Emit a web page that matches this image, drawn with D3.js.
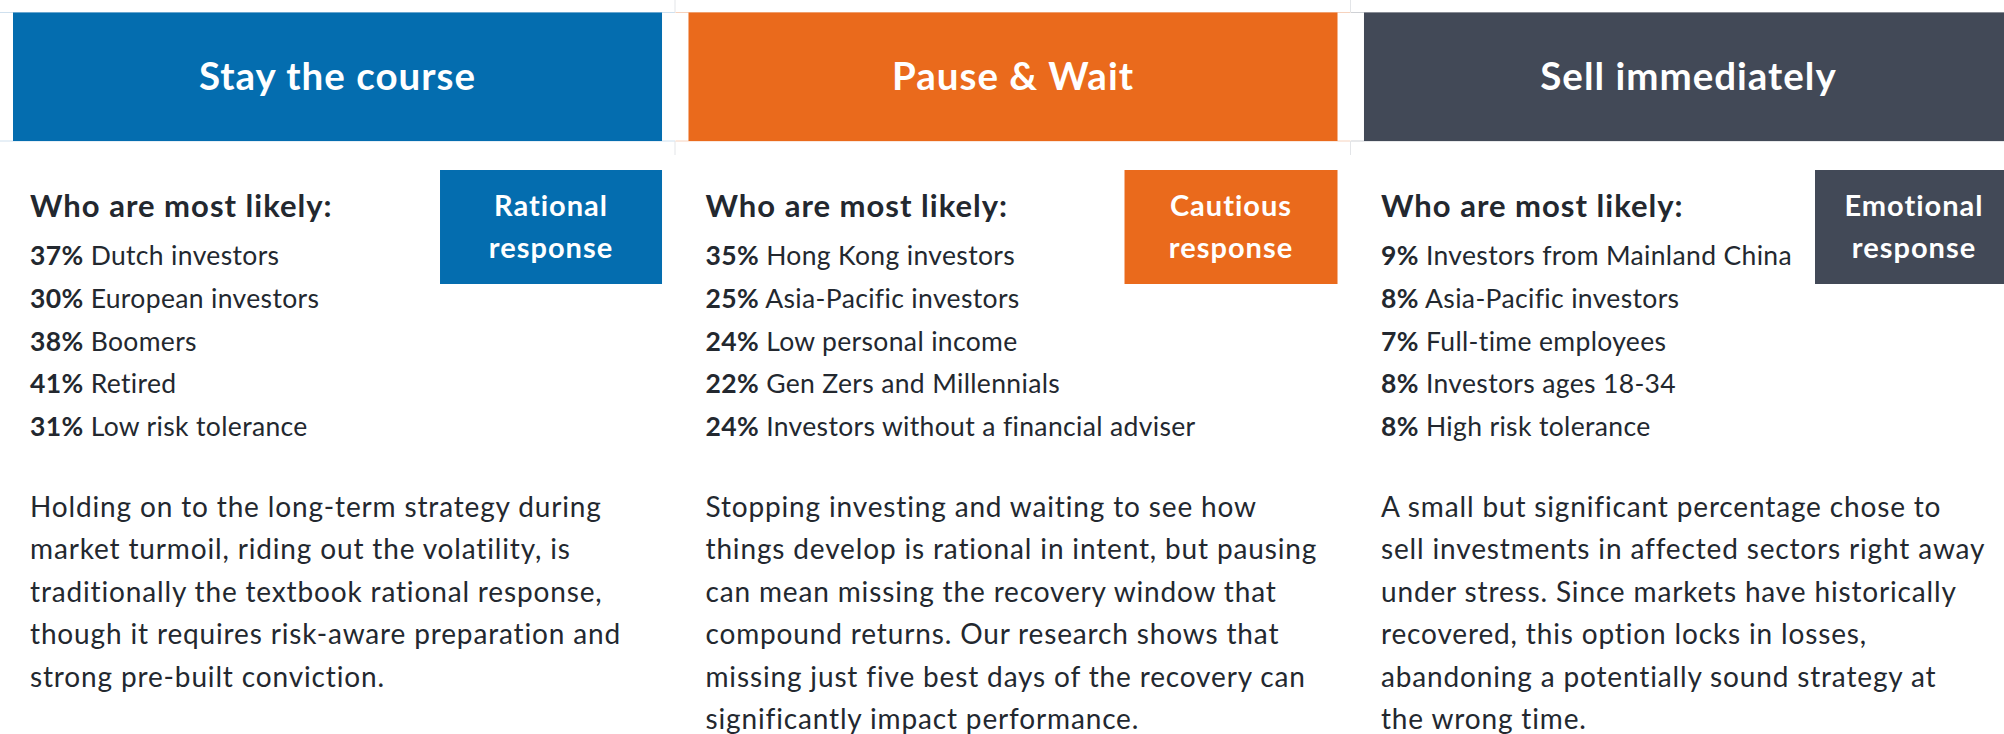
<!DOCTYPE html>
<html>
<head>
  <meta charset="utf-8">
  <title>Investor responses</title>
  <script src="https://d3js.org/d3.v7.min.js"></script>
  <style>
    body { margin: 0; background: #fff; }
    svg { display: block; }
    text { font-family: Lato, "Noto Sans", sans-serif; }
  </style>
</head>
<body>
  <div id="chart"></div>

  <script>
    // data
    var titles = ['Stay the course', 'Pause & Wait', 'Sell immediately'];
    var colors = ['#046daf', '#ea6a1c', '#424957'];
    var borderColors = ['#cfe0ee', '#f6d2bd', '#cfd1d5'];
    var badges = [['Rational', 'response'], ['Cautious', 'response'], ['Emotional', 'response']];
    var badgeWidths = [222, 213, 198];
    var heading = 'Who are most likely:';

    var pcts = [
      ['37%', '30%', '38%', '41%', '31%'],
      ['35%', '25%', '24%', '22%', '24%'],
      ['9%', '8%', '7%', '8%', '8%']
    ];
    var groups = [
      ['Dutch investors', 'European investors', 'Boomers', 'Retired', 'Low risk tolerance'],
      ['Hong Kong investors', 'Asia-Pacific investors', 'Low personal income', 'Gen Zers and Millennials', 'Investors without a financial adviser'],
      ['Investors from Mainland China', 'Asia-Pacific investors', 'Full-time employees', 'Investors ages 18-34', 'High risk tolerance']
    ];
    var paragraphs = [
      ['Holding on to the long-term strategy during',
       'market turmoil, riding out the volatility, is',
       'traditionally the textbook rational response,',
       'though it requires risk-aware preparation and',
       'strong pre-built conviction.'],
      ['Stopping investing and waiting to see how',
       'things develop is rational in intent, but pausing',
       'can mean missing the recovery window that',
       'compound returns. Our research shows that',
       'missing just five best days of the recovery can',
       'significantly impact performance.'],
      ['A small but significant percentage chose to',
       'sell investments in affected sectors right away',
       'under stress. Since markets have historically',
       'recovered, this option locks in losses,',
       'abandoning a potentially sound strategy at',
       'the wrong time.']
    ];

    var width = 2004, height = 734;
    var textColor = '#23282f';

    var svg = d3.select('#chart')
                .append('svg')
                  .attr('width', width)
                  .attr('height', height);

    // column positions
    var x = d3.scaleBand()
              .domain(titles)
              .range([13, 2013])
              .paddingInner(0.0392)
              .paddingOuter(0);

    // list rows and paragraph lines
    var yList = d3.scaleLinear().domain([0, 4]).range([265, 436]);
    var yPara = d3.scaleLinear().domain([0, 5]).range([517, 729]);

    var headTop = 12.5, headBottom = 141;

    var col = svg.selectAll('g.col')
                 .data(titles)
                 .enter()
                 .append('g')
                   .attr('class', 'col')
                   .attr('transform', function(d) { return 'translate(' + x(d) + ',0)'; });

    // faint table borders
    col.append('line')
         .attr('x1', -13).attr('x2', x.bandwidth() + 13)
         .attr('y1', headTop).attr('y2', headTop)
         .style('stroke', function(d, i) { return borderColors[i]; })
         .style('stroke-width', 1);
    col.append('line')
         .attr('x1', -13).attr('x2', x.bandwidth() + 13)
         .attr('y1', headBottom).attr('y2', headBottom)
         .style('stroke', function(d, i) { return borderColors[i]; })
         .style('stroke-width', 1);
    col.filter(function(d, i) { return i < 2; })
       .each(function(d, i) {
         var g = d3.select(this);
         [[0, headTop], [headBottom, headBottom + 14]].forEach(function(seg) {
           g.append('line')
              .attr('x1', x.bandwidth() + 13).attr('x2', x.bandwidth() + 13)
              .attr('y1', seg[0]).attr('y2', seg[1])
              .style('stroke', '#e3e5e8')
              .style('stroke-width', 1);
         });
       });

    // header boxes
    col.append('rect')
         .attr('x', 0)
         .attr('y', headTop)
         .attr('width', x.bandwidth())
         .attr('height', headBottom - headTop)
         .style('fill', function(d, i) { return colors[i]; });

    col.append('text')
         .text(function(d) { return d; })
         .attr('x', x.bandwidth() / 2)
         .attr('y', 90)
         .attr('text-anchor', 'middle')
         .style('fill', '#fff')
         .style('font-weight', 700)
         .style('font-size', '38.5px')
         .style('letter-spacing', '1px');

    // badges
    col.append('rect')
         .attr('x', function(d, i) { return x.bandwidth() - badgeWidths[i]; })
         .attr('y', 170)
         .attr('width', function(d, i) { return badgeWidths[i]; })
         .attr('height', 114)
         .style('fill', function(d, i) { return colors[i]; });

    col.each(function(d, i) {
      var g = d3.select(this);
      var cx = x.bandwidth() - badgeWidths[i] / 2;
      if (i == 2) cx = x.bandwidth() - 99;
      g.selectAll('text.badge')
         .data(badges[i])
         .enter()
         .append('text')
           .attr('class', 'badge')
           .text(function(t) { return t; })
           .attr('x', cx)
           .attr('y', function(t, j) { return 216 + j * 42; })
           .attr('text-anchor', 'middle')
           .style('fill', '#fff')
           .style('font-weight', 700)
           .style('font-size', '29px')
           .style('letter-spacing', '1px');
    });

    // heading
    col.append('text')
         .text(heading)
         .attr('x', 17)
         .attr('y', 217)
         .style('fill', textColor)
         .style('font-weight', 700)
         .style('font-size', '31px')
         .style('letter-spacing', '1px');

    // lists
    col.each(function(d, i) {
      var g = d3.select(this);
      var rows = g.selectAll('text.item')
                  .data(pcts[i])
                  .enter()
                  .append('text')
                    .attr('class', 'item')
                    .attr('x', 17)
                    .attr('y', function(p, j) { return yList(j); })
                    .style('fill', textColor)
                    .style('font-size', '26.5px')
                    .style('letter-spacing', '0.35px');
      rows.append('tspan')
            .text(function(p) { return p; })
            .style('font-weight', 700);
      rows.append('tspan')
            .text(function(p, j) { return ' ' + groups[i][j]; });

      g.selectAll('text.para')
         .data(paragraphs[i])
         .enter()
         .append('text')
           .attr('class', 'para')
           .text(function(t) { return t; })
           .attr('x', 17)
           .attr('y', function(t, j) { return yPara(j); })
           .style('fill', textColor)
           .style('font-size', '28px')
           .style('letter-spacing', '0.85px');
    });
  </script>
</body>
</html>
